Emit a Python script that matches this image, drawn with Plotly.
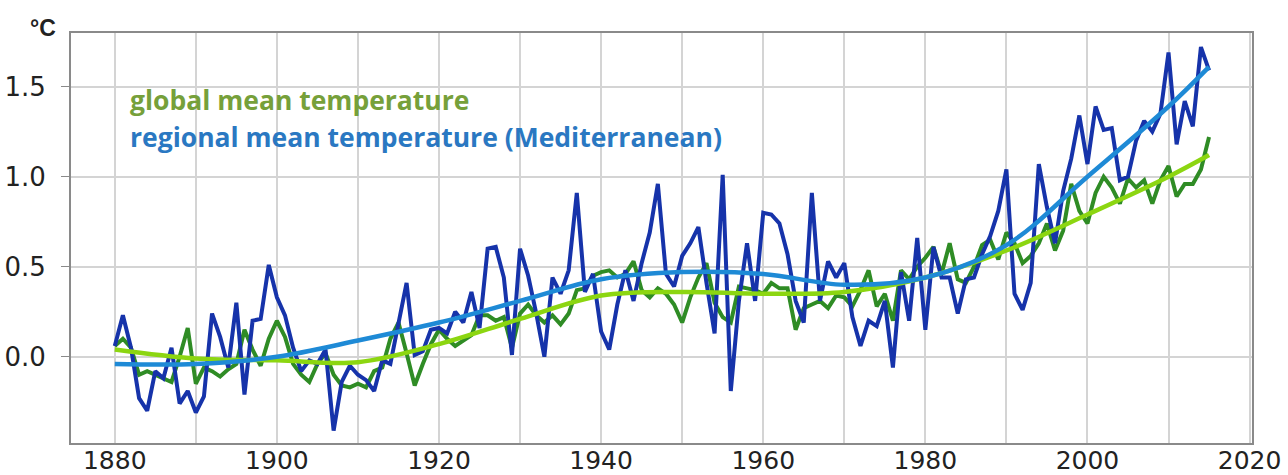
import plotly.graph_objects as go

years = list(range(1880, 2016))

regional = [
    0.06, 0.23, 0.05, -0.23, -0.30, -0.08, -0.12, 0.05, -0.26, -0.19,
    -0.31, -0.22, 0.24, 0.11, -0.06, 0.30, -0.21, 0.20, 0.21, 0.51,
    0.33, 0.23, 0.05, -0.08, -0.02, -0.04, 0.04, -0.41, -0.14, -0.05,
    -0.10, -0.13, -0.19, -0.02, -0.04, 0.20, 0.41, 0.01, 0.03, 0.15,
    0.16, 0.13, 0.25, 0.19, 0.36, 0.16, 0.60, 0.61, 0.44, 0.01,
    0.60, 0.45, 0.24, 0.00, 0.44, 0.35, 0.48, 0.91, 0.36, 0.46,
    0.14, 0.04, 0.29, 0.48, 0.31, 0.52, 0.69, 0.96, 0.46, 0.39,
    0.56, 0.63, 0.72, 0.41, 0.13, 1.01, -0.19, 0.31, 0.63, 0.31,
    0.80, 0.79, 0.74, 0.57, 0.31, 0.19, 0.91, 0.31, 0.53, 0.44,
    0.52, 0.22, 0.06, 0.20, 0.17, 0.31, -0.06, 0.47, 0.20, 0.66,
    0.15, 0.61, 0.44, 0.44, 0.24, 0.43, 0.44, 0.57, 0.67, 0.81,
    1.04, 0.35, 0.26, 0.41, 1.07, 0.83, 0.63, 0.92, 1.10, 1.34,
    1.07, 1.39, 1.26, 1.27, 0.98, 1.00, 1.20, 1.31, 1.25, 1.35,
    1.69, 1.18, 1.42, 1.28, 1.72, 1.59,
]

global_ = [
    0.06, 0.10, 0.05, -0.10, -0.08, -0.10, -0.12, -0.14, 0.00, 0.16,
    -0.15, -0.06, -0.08, -0.11, -0.07, -0.04, 0.15, 0.04, -0.05, 0.10,
    0.20, 0.11, -0.04, -0.10, -0.14, -0.04, 0.02, -0.10, -0.16, -0.17,
    -0.15, -0.17, -0.08, -0.06, 0.10, 0.19, 0.02, -0.16, -0.04, 0.07,
    0.15, 0.10, 0.06, 0.09, 0.12, 0.23, 0.23, 0.20, 0.22, 0.05,
    0.24, 0.29, 0.23, 0.19, 0.23, 0.18, 0.24, 0.37, 0.38, 0.45,
    0.47, 0.48, 0.44, 0.46, 0.53, 0.37, 0.33, 0.38, 0.35, 0.29,
    0.19, 0.33, 0.44, 0.52, 0.30, 0.22, 0.19, 0.39, 0.38, 0.37,
    0.35, 0.41, 0.38, 0.38, 0.15, 0.27, 0.29, 0.31, 0.27, 0.34,
    0.33, 0.28, 0.37, 0.48, 0.28, 0.35, 0.20, 0.48, 0.43, 0.50,
    0.55, 0.61, 0.46, 0.63, 0.43, 0.41, 0.50, 0.62, 0.65, 0.54,
    0.69, 0.63, 0.52, 0.56, 0.63, 0.74, 0.59, 0.70, 0.96, 0.81,
    0.74, 0.91, 1.00, 0.94, 0.85, 0.99, 0.94, 0.98, 0.85, 0.98,
    1.06, 0.89, 0.96, 0.96, 1.04, 1.22,
]

smooth_years = [1880, 1890, 1900, 1910, 1920, 1930, 1940, 1950, 1960, 1970, 1980, 1990, 2000, 2010, 2015]
global_smooth = [0.04, -0.01, -0.02, -0.03, 0.07, 0.21, 0.34, 0.36, 0.35, 0.36, 0.44, 0.59, 0.79, 1.00, 1.12]
regional_smooth = [-0.04, -0.04, 0.00, 0.09, 0.19, 0.31, 0.43, 0.47, 0.46, 0.40, 0.44, 0.62, 1.00, 1.39, 1.61]

x_tickvals = list(range(1880, 2021, 10))
x_ticktext = ["1880", "", "1900", "", "1920", "", "1940", "", "1960", "", "1980", "", "2000", "", "2020"]
y_tickvals = [0.0, 0.5, 1.0, 1.5]
y_ticktext = ["0.0", "0.5", "1.0", "1.5"]

label_global = "global mean temperature"
label_regional = "regional mean temperature (Mediterranean)"

fig = go.Figure()
fig.add_trace(go.Scatter(x=years, y=global_, mode="lines",
                         line=dict(color="#2f8c25", width=4), name=label_global))
fig.add_trace(go.Scatter(x=years, y=regional, mode="lines",
                         line=dict(color="#1633aa", width=4), name=label_regional))
fig.add_trace(go.Scatter(x=smooth_years, y=global_smooth, mode="lines",
                         line=dict(color="#8cd611", width=4.5, shape="spline", smoothing=1.0)))
fig.add_trace(go.Scatter(x=smooth_years, y=regional_smooth, mode="lines",
                         line=dict(color="#1e8ad6", width=4.5, shape="spline", smoothing=1.0)))

fig.add_annotation(xref="paper", yref="paper", x=0.0483, y=0.8366, xanchor="left", yanchor="middle",
                   text="<b>" + label_global + "</b>", showarrow=False,
                   font=dict(family="Open Sans", size=26.5, color="#76a03a"))
fig.add_annotation(xref="paper", yref="paper", x=0.0483, y=0.746, xanchor="left", yanchor="middle",
                   text="<b>" + label_regional + "</b>", showarrow=False,
                   font=dict(family="Open Sans", size=26.5, color="#2a78c2"))
fig.add_annotation(xref="paper", yref="paper", x=-0.0237, y=1.012, xanchor="center", yanchor="middle",
                   text="<b>°C</b>", showarrow=False,
                   font=dict(family="Liberation Sans", size=23, color="#222222"))

fig.update_layout(
    width=1288, height=475,
    margin=dict(l=71, r=36, t=33, b=32, autoexpand=False),
    paper_bgcolor="white", plot_bgcolor="white",
    showlegend=False,
    font=dict(family="DejaVu Sans", size=25, color="#222222"),
)
fig.update_xaxes(range=[1874.6, 2020.3], tickvals=x_tickvals, ticktext=x_ticktext,
                 showgrid=True, gridcolor="#d4d4d4", gridwidth=1.5,
                 showline=True, linecolor="#8a8a8a", linewidth=2, mirror=True,
                 ticks="", zeroline=False, tickfont=dict(size=25), automargin=False,
                 ticklabelstandoff=-6)
fig.update_yaxes(range=[-0.479, 1.798], tickvals=y_tickvals, ticktext=y_ticktext,
                 showgrid=True, gridcolor="#d4d4d4", gridwidth=1.5,
                 showline=True, linecolor="#8a8a8a", linewidth=2, mirror=True,
                 ticks="outside", ticklen=8, tickcolor="#8a8a8a", zeroline=False,
                 ticklabelstandoff=10, tickfont=dict(size=26), automargin=False)

post = """
document.documentElement.style.margin = '0';
document.documentElement.style.overflow = 'hidden';
document.body.style.margin = '0';
document.body.style.overflow = 'hidden';
"""

fig.write_html("out.html", config={"displayModeBar": False}, post_script=post)
